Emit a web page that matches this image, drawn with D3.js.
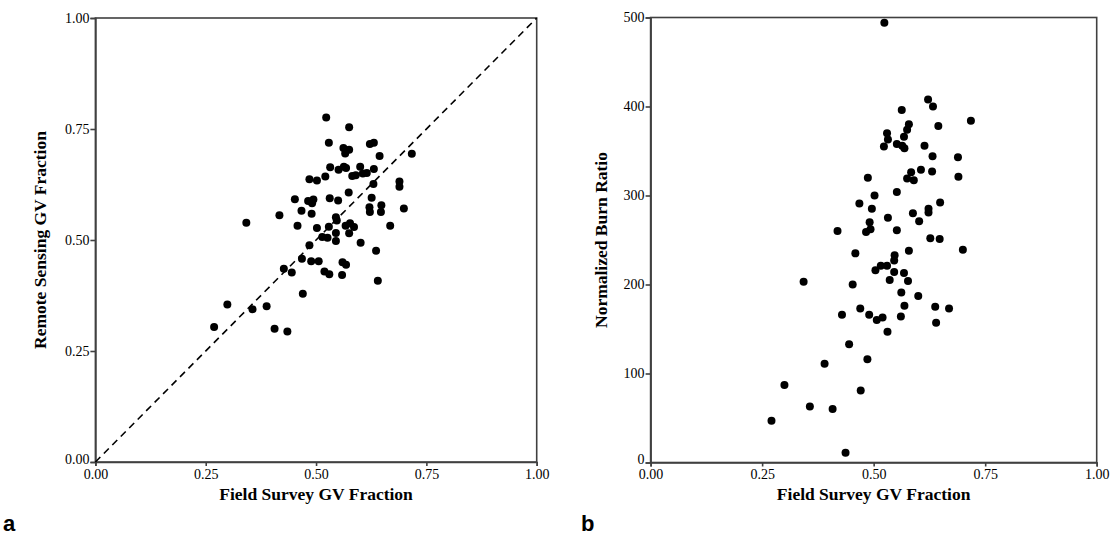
<!DOCTYPE html>
<html>
<head>
<meta charset="utf-8">
<script src="https://cdn.jsdelivr.net/npm/d3@7"></script>
<style>
  html, body { margin: 0; padding: 0; background: #fff; }
  svg { display: block; }
  .tick text { font-family: "Liberation Serif", "Times New Roman", serif; font-size: 14px; fill: #000; }
  .title { font-family: "Liberation Serif", "Times New Roman", serif; font-size: 17.5px; font-weight: bold; fill: #000; }
  .plabel { font-family: "Liberation Sans", Arial, sans-serif; font-size: 22px; font-weight: bold; fill: #000; }
</style>
</head>
<body>
<svg id="chart" width="1115" height="541"></svg>
<script>
// ---------- Data ----------
// Panel a: Field Survey GV Fraction vs Remote Sensing GV Fraction
const fieldA = [0.523,0.575,0.529,0.562,0.575,0.566,0.622,0.631,0.644,0.717,
                0.532,0.551,0.563,0.568,0.600,0.631,0.582,0.590,0.606,0.615,
                0.485,0.502,0.521,0.630,0.689,0.689,0.574,0.452,0.482,0.494,
                0.491,0.531,0.550,0.626,0.621,0.622,0.648,0.647,0.699,0.467,
                0.490,0.417,0.342,0.545,0.547,0.458,0.502,0.529,0.567,0.577,
                0.586,0.668,0.514,0.526,0.545,0.545,0.575,0.601,0.485,0.636,
                0.468,0.489,0.506,0.560,0.568,0.427,0.445,0.519,0.530,0.559,
                0.640,0.470,0.299,0.356,0.388,0.406,0.435,0.269];
const remoteA = [0.776,0.754,0.719,0.707,0.703,0.695,0.716,0.719,0.689,0.694,
                 0.664,0.658,0.665,0.662,0.665,0.660,0.644,0.646,0.650,0.651,
                 0.637,0.634,0.643,0.626,0.632,0.620,0.607,0.592,0.588,0.591,
                 0.583,0.594,0.589,0.595,0.574,0.563,0.578,0.563,0.571,0.566,
                 0.559,0.556,0.539,0.551,0.544,0.532,0.527,0.530,0.532,0.538,
                 0.529,0.532,0.507,0.505,0.516,0.498,0.515,0.494,0.488,0.476,
                 0.458,0.452,0.452,0.450,0.444,0.435,0.427,0.429,0.423,0.421,
                 0.408,0.379,0.355,0.344,0.351,0.300,0.294,0.304];

// Panel b: Field Survey GV Fraction vs Normalized Burn Ratio
const fieldB = [0.524,0.622,0.633,0.563,0.718,0.579,0.575,0.645,0.530,0.532,
                0.568,0.523,0.552,0.564,0.569,0.614,0.632,0.689,0.487,0.584,
                0.575,0.590,0.606,0.631,0.690,0.502,0.552,0.468,0.496,0.649,
                0.588,0.623,0.623,0.532,0.602,0.491,0.493,0.483,0.419,0.552,
                0.627,0.648,0.459,0.547,0.546,0.579,0.700,0.504,0.516,0.530,
                0.546,0.568,0.343,0.453,0.536,0.577,0.562,0.600,0.470,0.429,
                0.490,0.507,0.520,0.561,0.569,0.638,0.669,0.640,0.531,0.445,
                0.390,0.486,0.300,0.471,0.357,0.408,0.271,0.437];
const nbrB = [494,408,400,396,384,380,374,378,370,363,
              366,355,358,356,353,356,344,343,320,326,
              319,317,329,327,321,300,304,291,285,292,
              280,285,281,275,271,270,262,259,260,261,
              252,251,235,233,227,238,239,216,221,221,
              214,213,203,200,205,204,191,187,173,166,
              166,160,163,164,176,175,173,157,147,133,
              111,116,87,81,63,60,47,11];

// Tick labels
const fracTicks = [0, 0.25, 0.5, 0.75, 1];
const nbrTicks = [0, 100, 200, 300, 400, 500];

const xTitle = "Field Survey GV Fraction";
const yTitleA = "Remote Sensing GV Fraction";
const yTitleB = "Normalized Burn Ratio";

// ---------- Drawing ----------
const svg = d3.select("#chart");
const axisColor = "#404040";

function panel(opts) {
  const { x0, x1, y0, y1, yDomain, yTicks, yFmt, xs, ys, yTitle, yTitleX, label, labelX, diag } = opts;
  const x = d3.scaleLinear().domain([0, 1]).range([x0, x1]);
  const y = d3.scaleLinear().domain(yDomain).range([y0, y1]);
  const g = svg.append("g");

  // frame
  g.append("rect")
    .attr("x", x0).attr("y", y1)
    .attr("width", x1 - x0).attr("height", y0 - y1)
    .attr("fill", "none").attr("stroke", axisColor).attr("stroke-width", 1.6);

  // axes
  const xa = g.append("g").attr("transform", `translate(0,${y0})`)
    .call(d3.axisBottom(x).tickValues(fracTicks).tickFormat(d3.format(".2f")).tickSize(4).tickPadding(3));
  const ya = g.append("g").attr("transform", `translate(${x0},0)`)
    .call(d3.axisLeft(y).tickValues(yTicks).tickFormat(yFmt).tickSize(5).tickPadding(1));
  [xa, ya].forEach(a => {
    a.select(".domain").attr("stroke", axisColor).attr("stroke-width", 1.6);
    a.selectAll(".tick line").attr("stroke", axisColor).attr("stroke-width", 1.6);
  });
  // lift the bottom-most y label slightly so it does not collide with the x "0.00"
  ya.selectAll(".tick text").filter(d => d === yDomain[0]).attr("dy", "0.1em");

  // diagonal 1:1 line
  if (diag) {
    g.append("line")
      .attr("x1", x(0)).attr("y1", y(0))
      .attr("x2", x(1)).attr("y2", y(1))
      .attr("stroke", "#000").attr("stroke-width", 1.6)
      .attr("stroke-dasharray", "7,5");
  }

  // points
  g.append("g").selectAll("circle")
    .data(xs.map((v, i) => [v, ys[i]]))
    .join("circle")
    .attr("cx", d => x(d[0])).attr("cy", d => y(d[1]))
    .attr("r", 4).attr("fill", "#000");

  // titles
  g.append("text").attr("class", "title")
    .attr("x", (x0 + x1) / 2).attr("y", 500)
    .attr("text-anchor", "middle").text(xTitle);
  g.append("text").attr("class", "title")
    .attr("transform", `translate(${yTitleX},${(y0 + y1) / 2}) rotate(-90)`)
    .attr("text-anchor", "middle").text(yTitle);

  g.append("text").attr("class", "plabel")
    .attr("x", labelX).attr("y", 531).text(label);
}

panel({
  x0: 95.4, x1: 536.7, y0: 462, y1: 18,
  yDomain: [0, 1], yTicks: fracTicks, yFmt: d3.format(".2f"),
  xs: fieldA, ys: remoteA, yTitle: yTitleA, yTitleX: 46,
  label: "a", labelX: 3, diag: true
});

panel({
  x0: 650.6, x1: 1096.7, y0: 462.5, y1: 17.5,
  yDomain: [0, 500], yTicks: nbrTicks, yFmt: d3.format("d"),
  xs: fieldB, ys: nbrB, yTitle: yTitleB, yTitleX: 607,
  label: "b", labelX: 581, diag: false
});
</script>
</body>
</html>
